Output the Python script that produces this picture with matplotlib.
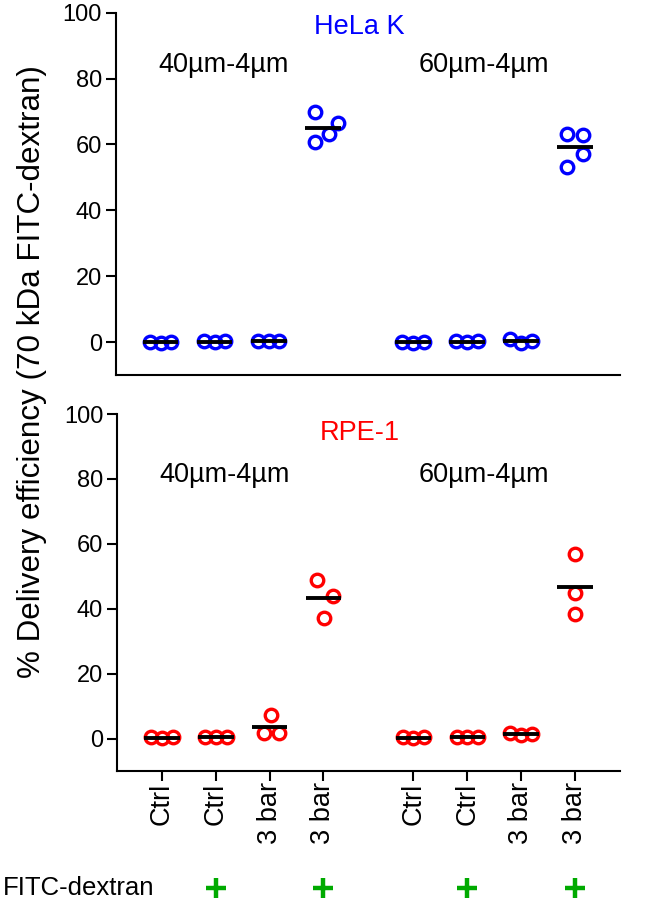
import matplotlib
matplotlib.use("Agg")
import matplotlib.pyplot as plt
import numpy as np
from matplotlib.transforms import blended_transform_factory

plt.rcParams['font.family'] = ['Liberation Sans', 'DejaVu Sans']

# x categories (bottom panel tick labels) and FITC-dextran presence
conditions = ["Ctrl", "Ctrl", "3 bar", "3 bar", "Ctrl", "Ctrl", "3 bar", "3 bar"]
fitc = [False, True, False, True, False, True, False, True]
devices = ["40µm-4µm", "60µm-4µm"]

# % delivery efficiency, one list per group
hela = [
    [0.2, -0.1, 0.2], [0.3, 0.0, 0.3], [0.5, 0.4, 0.5], [69.8, 66.5, 63.2, 60.7],
    [0.2, -0.1, 0.2], [0.3, 0.0, 0.3], [1.1, -0.2, 0.4], [63.2, 62.9, 57.0, 53.3],
]
rpe = [
    [0.4, 0.3, 0.4], [0.5, 0.4, 0.5], [7.3, 1.7, 1.7], [49.0, 44.1, 37.2],
    [0.4, 0.3, 0.4], [0.5, 0.4, 0.5], [1.9, 1.2, 1.6], [57.0, 45.0, 38.5],
]

# layout: group centres and the horizontal spread of points inside a group
xpos = [1, 2, 3, 4, 5.67, 6.67, 7.67, 8.67]
hela_dx = [
    [-0.2, 0, 0.2], [-0.2, 0, 0.2], [-0.2, 0, 0.2], [-0.15, 0.28, 0.12, -0.15],
    [-0.2, 0, 0.2], [-0.2, 0, 0.2], [-0.2, 0, 0.2], [-0.14, 0.14, 0.14, -0.14],
]
rpe_dx = [
    [-0.2, 0, 0.2], [-0.2, 0, 0.2], [0.03, -0.11, 0.18], [-0.12, 0.17, 0.01],
    [-0.2, 0, 0.2], [-0.2, 0, 0.2], [-0.2, 0, 0.2], [0, 0, 0],
]

fig = plt.figure(figsize=(6.58, 9.02), dpi=100)
ax1 = fig.add_axes([0.176, 0.584, 0.766, 0.402])
ax2 = fig.add_axes([0.178, 0.145, 0.764, 0.396])


def draw_panel(ax, values, dx, color, title, title_y, dev_y):
    for x, vals, offs in zip(xpos, values, dx):
        xs = [x + o for o in offs]
        ax.plot(xs, vals, "o", mfc="none", mec=color, ms=9, mew=2.4,
                zorder=3, clip_on=False)
        ax.hlines(np.mean(vals), x - 0.33, x + 0.33, color="black",
                  lw=2.8, zorder=4)
    ax.set_xlim(0.17, 9.5)
    ax.set_ylim(-10, 100)
    ax.set_yticks([0, 20, 40, 60, 80, 100])
    for s in ["top", "right"]:
        ax.spines[s].set_visible(False)
    for s in ["left", "bottom"]:
        ax.spines[s].set_linewidth(1.5)
    ax.tick_params(axis="both", direction="out", length=7, width=1.5,
                   labelsize=17, pad=3)
    ax.text(4.67, title_y, title, color=color, fontsize=19.5,
            ha="center", va="baseline")
    ax.text(2.17, dev_y, devices[0], fontsize=19.5, ha="center", va="baseline")
    ax.text(6.98, dev_y, devices[1], fontsize=19.5, ha="center", va="baseline")


draw_panel(ax1, hela, hela_dx, "#0000ff", "HeLa K", 93.6, 82)
draw_panel(ax2, rpe, rpe_dx, "#ff0000", "RPE-1", 92, 79)

ax1.set_xticks([])
ax2.set_xticks(xpos)
ax2.set_xticklabels(conditions, rotation=90, fontsize=19.5)
ax2.tick_params(axis="x", pad=1)

fig.text(0.049, 0.588, "% Delivery efficiency (70 kDa FITC-dextran)",
         rotation=90, ha="center", va="center", fontsize=22.6)

# FITC-dextran row under the x labels
trans = blended_transform_factory(ax2.transData, fig.transFigure)
fig.text(0.004, 0.015, "FITC-dextran", fontsize=18.5, ha="left", va="center")
plus_x = [x for x, f in zip(xpos, fitc) if f]
ax2.plot(plus_x, [0.016] * len(plus_x), "+", color="#00aa00", ms=14, mew=3.2,
         transform=trans, clip_on=False)

fig.savefig("out.png", dpi=100)
